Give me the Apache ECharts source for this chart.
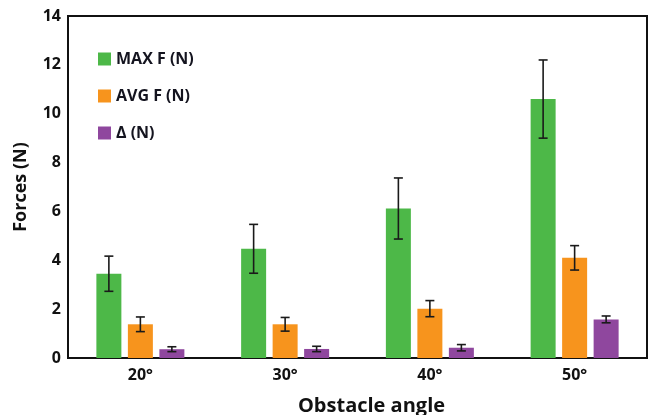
<!DOCTYPE html>
<html>
<head>
<meta charset="utf-8">
<script src="https://cdn.jsdelivr.net/npm/echarts@6/dist/echarts.min.js"></script>
<style>
html,body{margin:0;padding:0;background:#fff;}
#chart{width:650px;height:415px;}
</style>
</head>
<body>
<div id="chart"></div>
<script>
var categories = ['20°', '30°', '40°', '50°'];
var seriesNames = ['MAX F (N)', 'AVG F (N)', 'Δ (N)'];
var maxF = [3.45, 4.47, 6.12, 10.6];
var maxErr = [0.72, 1.0, 1.25, 1.6];
var avgF = [1.38, 1.38, 2.02, 4.1];
var avgErr = [0.3, 0.28, 0.33, 0.5];
var deltaF = [0.36, 0.37, 0.42, 1.58];
var deltaErr = [0.1, 0.11, 0.13, 0.14];
var yTicks = [0, 2, 4, 6, 8, 10, 12, 14];

var colors = ['#4db848', '#f7941d', '#8f479e'];
var font = '"Open Sans", "Liberation Sans", sans-serif';
var barW = 25;
var step = 31.5;

function errData(vals, errs) {
  return vals.map(function (v, i) { return [i, v - errs[i], v + errs[i]]; });
}

function errSeries(vals, errs, k) {
  return {
    type: 'custom',
    z: 10,
    silent: true,
    data: errData(vals, errs),
    renderItem: function (params, api) {
      var idx = api.value(0);
      var lo = api.coord([idx, api.value(1)]);
      var hi = api.coord([idx, api.value(2)]);
      var x = lo[0] + (k - 1) * step;
      var hw = 4.5;
      var st = { stroke: '#1a1a1a', lineWidth: 1.6 };
      return {
        type: 'group',
        children: [
          { type: 'line', shape: { x1: x, y1: lo[1], x2: x, y2: hi[1] }, style: st },
          { type: 'line', shape: { x1: x - hw, y1: lo[1], x2: x + hw, y2: lo[1] }, style: st },
          { type: 'line', shape: { x1: x - hw, y1: hi[1], x2: x + hw, y2: hi[1] }, style: st }
        ]
      };
    }
  };
}

var chart = echarts.init(document.getElementById('chart'));
chart.setOption({
  animation: false,
  backgroundColor: '#fff',
  grid: { left: 68, right: 3, top: 16, bottom: 57, containLabel: false, outerBoundsMode: 'none', show: true, borderColor: '#111', borderWidth: 2, backgroundColor: 'transparent' },
  legend: {
    orient: 'vertical',
    left: 93,
    top: 46,
    itemWidth: 13,
    itemHeight: 13,
    itemGap: 21,
    icon: 'rect',
    data: seriesNames,
    textStyle: { fontFamily: font, fontWeight: 'bold', fontSize: 16, lineHeight: 14, color: '#14141f' }
  },
  xAxis: {
    type: 'category',
    data: categories,
    axisLine: { show: true, lineStyle: { color: '#111', width: 2 } },
    axisTick: { show: false },
    axisLabel: { fontFamily: font, fontWeight: 'bold', fontSize: 16, color: '#111', margin: 9 },
    name: 'Obstacle angle',
    nameLocation: 'middle',
    nameGap: 38,
    nameTextStyle: { fontFamily: font, fontWeight: 'bold', fontSize: 20, color: '#111', padding: [0, 0, 0, 28] }
  },
  yAxis: {
    type: 'value',
    min: yTicks[0],
    max: yTicks[yTicks.length - 1],
    interval: 2,
    splitLine: { show: false },
    axisLine: { show: true, lineStyle: { color: '#111', width: 2 } },
    axisTick: { show: false },
    axisLabel: { fontFamily: font, fontWeight: 'bold', fontSize: 16, color: '#111', margin: 7 },
    name: 'Forces (N)',
    nameLocation: 'middle',
    nameGap: 38,
    nameTextStyle: { fontFamily: font, fontWeight: 'bold', fontSize: 18, color: '#111' }
  },
  series: [
    { name: seriesNames[0], type: 'bar', data: maxF, barWidth: barW, barGap: '26%', itemStyle: { color: colors[0] } },
    { name: seriesNames[1], type: 'bar', data: avgF, barWidth: barW, barGap: '26%', itemStyle: { color: colors[1] } },
    { name: seriesNames[2], type: 'bar', data: deltaF, barWidth: barW, barGap: '26%', itemStyle: { color: colors[2] } },
    errSeries(maxF, maxErr, 0),
    errSeries(avgF, avgErr, 1),
    errSeries(deltaF, deltaErr, 2)
  ]
});
</script>
</body>
</html>
